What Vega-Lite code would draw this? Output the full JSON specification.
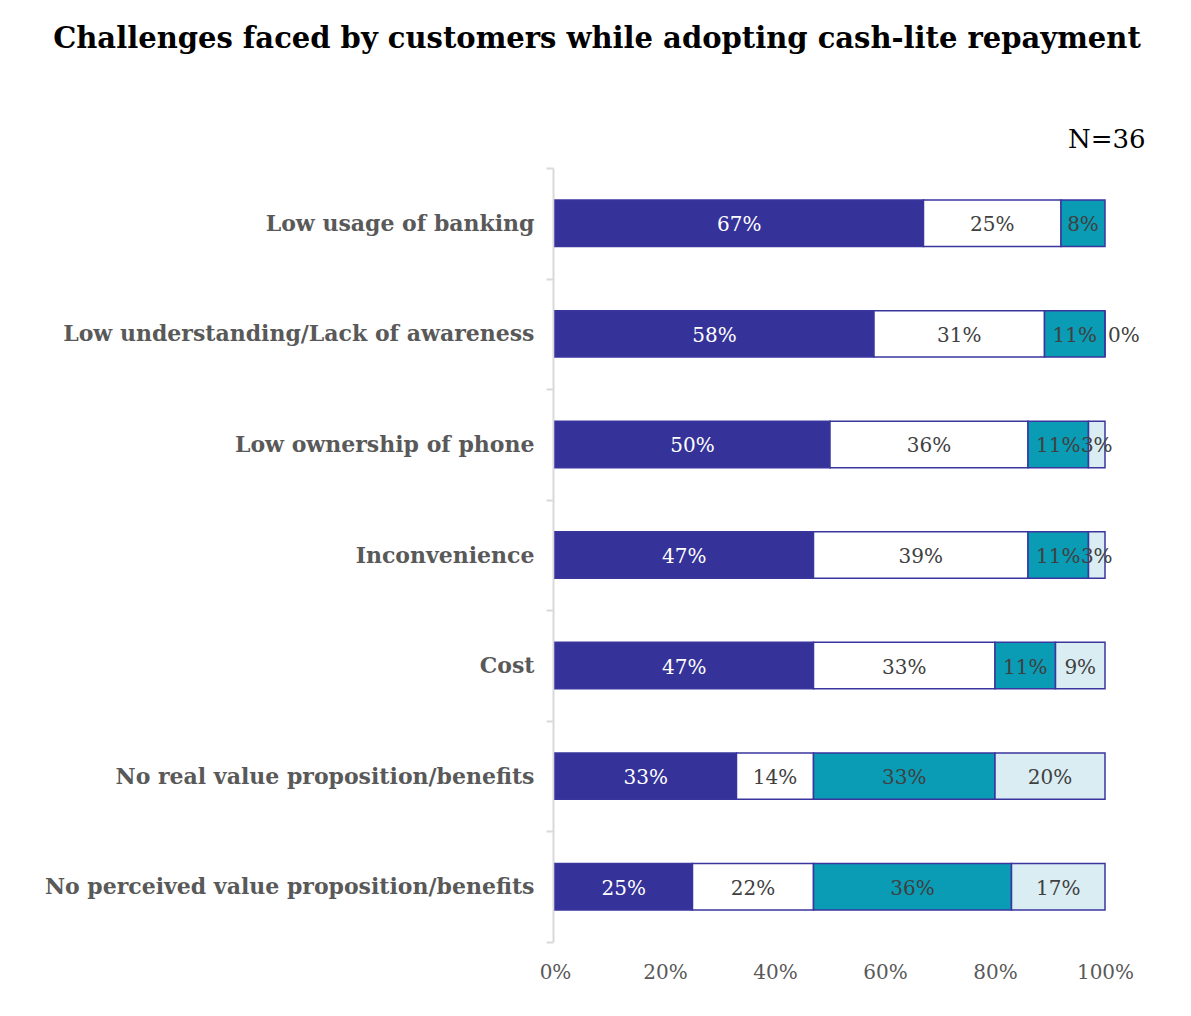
{
  "$schema": "https://vega.github.io/schema/vega-lite/v6.json",
  "width": 550,
  "height": 774,
  "autosize": {"type": "none"},
  "padding": {"left": 555, "top": 168, "right": 86, "bottom": 74},
  "background": "white",
  "title": {
    "text": "Challenges faced by customers while adopting cash-lite repayment",
    "font": "DejaVu Serif",
    "fontSize": 29,
    "fontWeight": "bold",
    "color": "#000000",
    "anchor": "middle",
    "dx": -233,
    "offset": 72
  },
  "data": {
    "values": [
      {"challenge": "Low usage of banking", "segment": "S1", "order": 1, "value": 67},
      {"challenge": "Low usage of banking", "segment": "S2", "order": 2, "value": 25},
      {"challenge": "Low usage of banking", "segment": "S3", "order": 3, "value": 8},
      {"challenge": "Low understanding/Lack of awareness", "segment": "S1", "order": 1, "value": 58},
      {"challenge": "Low understanding/Lack of awareness", "segment": "S2", "order": 2, "value": 31},
      {"challenge": "Low understanding/Lack of awareness", "segment": "S3", "order": 3, "value": 11},
      {"challenge": "Low understanding/Lack of awareness", "segment": "S4", "order": 4, "value": 0},
      {"challenge": "Low ownership of phone", "segment": "S1", "order": 1, "value": 50},
      {"challenge": "Low ownership of phone", "segment": "S2", "order": 2, "value": 36},
      {"challenge": "Low ownership of phone", "segment": "S3", "order": 3, "value": 11},
      {"challenge": "Low ownership of phone", "segment": "S4", "order": 4, "value": 3},
      {"challenge": "Inconvenience", "segment": "S1", "order": 1, "value": 47},
      {"challenge": "Inconvenience", "segment": "S2", "order": 2, "value": 39},
      {"challenge": "Inconvenience", "segment": "S3", "order": 3, "value": 11},
      {"challenge": "Inconvenience", "segment": "S4", "order": 4, "value": 3},
      {"challenge": "Cost", "segment": "S1", "order": 1, "value": 47},
      {"challenge": "Cost", "segment": "S2", "order": 2, "value": 33},
      {"challenge": "Cost", "segment": "S3", "order": 3, "value": 11},
      {"challenge": "Cost", "segment": "S4", "order": 4, "value": 9},
      {"challenge": "No real value proposition/benefits", "segment": "S1", "order": 1, "value": 33},
      {"challenge": "No real value proposition/benefits", "segment": "S2", "order": 2, "value": 14},
      {"challenge": "No real value proposition/benefits", "segment": "S3", "order": 3, "value": 33},
      {"challenge": "No real value proposition/benefits", "segment": "S4", "order": 4, "value": 20},
      {"challenge": "No perceived value proposition/benefits", "segment": "S1", "order": 1, "value": 25},
      {"challenge": "No perceived value proposition/benefits", "segment": "S2", "order": 2, "value": 22},
      {"challenge": "No perceived value proposition/benefits", "segment": "S3", "order": 3, "value": 36},
      {"challenge": "No perceived value proposition/benefits", "segment": "S4", "order": 4, "value": 17}
    ]
  },
  "transform": [
    {"stack": "value", "groupby": ["challenge"], "sort": [{"field": "order", "order": "ascending"}], "as": ["x0", "x1"]},
    {"calculate": "(datum.x0 + datum.x1) / 2", "as": "xmid"},
    {"calculate": "datum.value + '%'", "as": "label"}
  ],
  "encoding": {
    "y": {
      "field": "challenge",
      "type": "nominal",
      "sort": null,
      "scale": {"paddingInner": 0, "paddingOuter": 0},
      "axis": {
        "title": null,
        "orient": "left",
        "offset": 2,
        "domainColor": "#d9d9d9",
        "domainWidth": 2,
        "tickColor": "#d9d9d9",
        "tickWidth": 2,
        "tickSize": 7,
        "tickBand": "extent",
        "labelFont": "DejaVu Serif",
        "labelFontWeight": "bold",
        "labelFontSize": 22,
        "labelColor": "#595959",
        "labelPadding": 12,
        "labelLimit": 600
      }
    }
  },
  "layer": [
    {
      "mark": {"type": "bar", "stroke": "#3a369e", "strokeWidth": 1.5, "height": {"band": 0.42}},
      "encoding": {
        "x": {
          "field": "x0",
          "type": "quantitative",
          "scale": {"domain": [0, 100], "nice": false},
          "axis": {
            "orient": "bottom",
            "values": [0, 20, 40, 60, 80, 100],
            "labelExpr": "datum.value + '%'",
            "title": null,
            "domain": false,
            "ticks": false,
            "grid": false,
            "labelFlush": false,
            "labelAlign": "center",
            "labelFont": "DejaVu Serif",
            "labelFontSize": 20,
            "labelColor": "#595959",
            "labelPadding": 20
          }
        },
        "x2": {"field": "x1"},
        "color": {
          "field": "segment",
          "type": "nominal",
          "legend": null,
          "scale": {"domain": ["S1", "S2", "S3", "S4"], "range": ["#353299", "#ffffff", "#0a9bb5", "#daedf3"]}
        }
      }
    },
    {
      "transform": [{"filter": "datum.value > 0"}],
      "mark": {"type": "text", "font": "DejaVu Serif", "fontSize": 20, "align": "center", "baseline": "middle", "dy": 2},
      "encoding": {
        "x": {
          "field": "xmid",
          "type": "quantitative",
          "axis": {
            "orient": "top",
            "labels": false,
            "ticks": false,
            "domain": false,
            "grid": false,
            "title": "N=36",
            "titleFont": "DejaVu Serif",
            "titleFontWeight": "normal",
            "titleFontSize": 26,
            "titleColor": "#000000",
            "titleAlign": "right",
            "titleBaseline": "alphabetic",
            "titleX": 590,
            "titleY": -21
          }
        },
        "text": {"field": "label"},
        "color": {"condition": {"test": "datum.segment === 'S1'", "value": "#ffffff"}, "value": "#404040"}
      }
    },
    {
      "transform": [{"filter": "datum.value === 0"}],
      "mark": {"type": "text", "font": "DejaVu Serif", "fontSize": 20, "align": "left", "baseline": "middle", "dx": 3, "dy": 2, "color": "#404040"},
      "encoding": {
        "x": {"field": "x1", "type": "quantitative", "axis": null},
        "text": {"field": "label"}
      }
    }
  ],
  "resolve": {"axis": {"x": "independent"}},
  "config": {"view": {"stroke": null}}
}
